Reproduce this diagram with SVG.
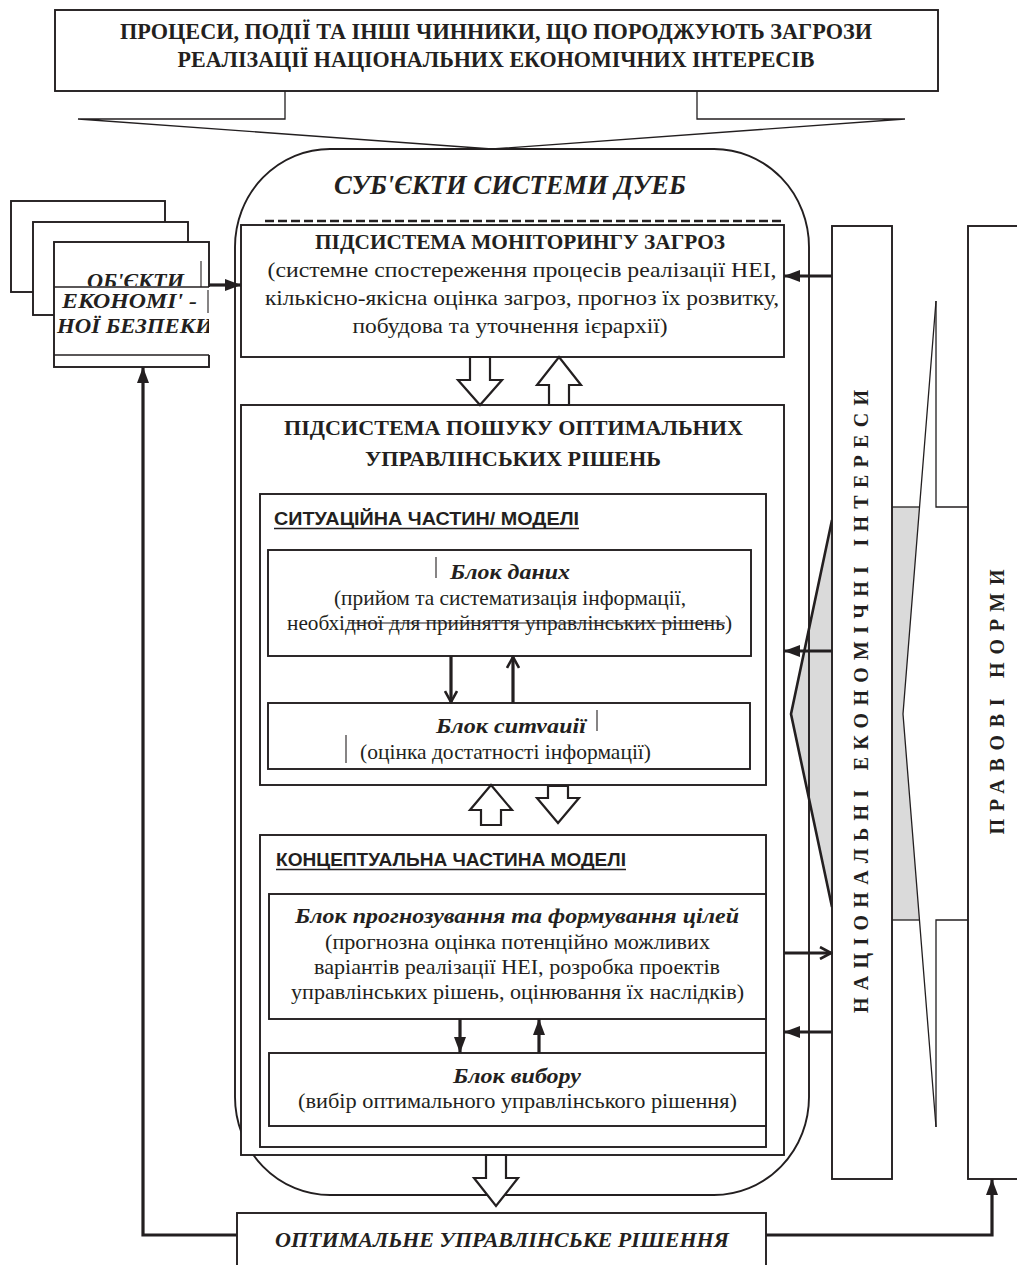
<svg xmlns="http://www.w3.org/2000/svg" width="1017" height="1265" viewBox="0 0 1017 1265">
<defs>
<style>
.box{fill:#fff;stroke:#231f20;stroke-width:1.9}
.nf{fill:none;stroke:#231f20;stroke-width:1.9}
.thin{fill:none;stroke:#231f20;stroke-width:1.3}
.bar{fill:none;stroke:#231f20;stroke-width:1.1}
.conn{fill:none;stroke:#231f20;stroke-width:3.2}
.chev{fill:none;stroke:#231f20;stroke-width:2.6;stroke-linejoin:miter}
.hollow{fill:#fff;stroke:#231f20;stroke-width:2.2;stroke-linejoin:miter}
.gray{fill:#dadada}
text{font-family:"Liberation Serif","Times New Roman",serif;fill:#231f20}
.b{font-weight:bold}
.bi{font-weight:bold;font-style:italic}
.sans{font-family:"Liberation Sans",Arial,sans-serif;font-weight:bold;font-size:19px}
.vert{font-weight:bold;font-size:20px}
</style>
<marker id="tri" markerUnits="userSpaceOnUse" viewBox="0 0 16 12" refX="16" refY="6" markerWidth="16" markerHeight="12" orient="auto"><path d="M0,0 L16,6 L0,12 Z" fill="#231f20"/></marker>
<marker id="barb" markerUnits="userSpaceOnUse" viewBox="0 0 14 14" refX="12" refY="7" markerWidth="14" markerHeight="14" orient="auto"><path d="M1,1 L12,7 L1,13" fill="none" stroke="#231f20" stroke-width="2.6"/></marker>
<clipPath id="cObj1"><rect x="54" y="242" width="155" height="44"/></clipPath>
<clipPath id="cObj3"><rect x="54" y="300" width="155" height="60"/></clipPath>
<clipPath id="cData"><rect x="300" y="550" width="400" height="29"/></clipPath>
<clipPath id="cSit"><rect x="300" y="703" width="400" height="30"/></clipPath>
</defs>
<rect x="0" y="0" width="1017" height="1265" fill="#fff"/>

<g id="interest-flow">
<polygon class="gray" points="832,520 791,714 832,907"/>
<polygon class="gray" points="892,507 919.5,507 903,714 919.5,920 892,920"/>
<polyline class="thin" points="936,301 903,714 936,1127"/>
<polyline class="thin" points="968,507 936,507 936,301"/>
<polyline class="thin" points="968,920 936,920 936,1127"/>
<line class="thin" x1="892" y1="507" x2="919.5" y2="507"/>
<line class="thin" x1="892" y1="920" x2="919.5" y2="920"/>
<polyline class="chev" points="832,520 791,714 832,907"/>
</g>

<g id="threats">
<rect class="box" x="55" y="10" width="883" height="81"/>
<text class="b" font-size="24" x="496" y="39" text-anchor="middle" textLength="752" lengthAdjust="spacingAndGlyphs">ПРОЦЕСИ, ПОДІЇ ТА ІНШІ ЧИННИКИ, ЩО ПОРОДЖУЮТЬ ЗАГРОЗИ</text>
<text class="b" font-size="24" x="496" y="67" text-anchor="middle" textLength="637" lengthAdjust="spacingAndGlyphs">РЕАЛІЗАЦІЇ НАЦІОНАЛЬНИХ ЕКОНОМІЧНИХ ІНТЕРЕСІВ</text>
</g>

<g id="subjects">
<path class="nf" d="M330,149 H714 A95,98 0 0 1 809,247 V1097 A95,98 0 0 1 714,1195 H330 A95,98 0 0 1 235,1097 V247 A95,98 0 0 1 330,149 Z"/>
<text class="bi" font-size="28" x="510" y="194" text-anchor="middle" textLength="352" lengthAdjust="spacingAndGlyphs">СУБ'ЄКТИ СИСТЕМИ ДУЕБ</text>
<line x1="265" y1="221" x2="781" y2="221" stroke="#231f20" stroke-width="2.5" stroke-dasharray="9 4"/>
</g>

<g id="objects">
<rect class="box" x="11" y="201" width="154" height="91"/>
<rect class="box" x="33" y="222" width="155" height="93"/>
<rect class="box" x="54" y="242" width="155" height="125"/>
<text class="bi" font-size="20" x="135.5" y="288" text-anchor="middle" textLength="97" lengthAdjust="spacingAndGlyphs" clip-path="url(#cObj1)">ОБ'ЄКТИ</text>
<rect x="55" y="287" width="160" height="68" fill="#fff"/>
<line class="thin" x1="54" y1="287" x2="209" y2="287"/>
<line class="thin" x1="54" y1="355" x2="209" y2="355"/>
<line class="bar" x1="201" y1="261" x2="201" y2="287"/>
<line class="bar" x1="208" y1="290" x2="208" y2="313"/>
<text class="bi" font-size="20" x="129.5" y="308" text-anchor="middle" textLength="135" lengthAdjust="spacingAndGlyphs">ЕКОНОМІ' -</text>
<text class="bi" font-size="20" x="57" y="333" textLength="156" lengthAdjust="spacingAndGlyphs" clip-path="url(#cObj3)">НОЇ БЕЗПЕКИ</text>
</g>

<g id="monitoring">
<rect class="box" x="241" y="225" width="543" height="132"/>
<text class="b" font-size="22" x="520" y="249" text-anchor="middle" textLength="410" lengthAdjust="spacingAndGlyphs">ПІДСИСТЕМА МОНІТОРИНГУ ЗАГРОЗ</text>
<text font-size="21" x="522" y="277" text-anchor="middle" textLength="509" lengthAdjust="spacingAndGlyphs">(системне спостереження процесів реалізації НЕІ,</text>
<text font-size="21" x="522" y="305" text-anchor="middle" textLength="514" lengthAdjust="spacingAndGlyphs">кількісно-якісна оцінка загроз, прогноз їх розвитку,</text>
<text font-size="21" x="510" y="333" text-anchor="middle" textLength="315" lengthAdjust="spacingAndGlyphs">побудова та уточнення ієрархії)</text>
</g>

<g id="search">
<rect class="box" x="241" y="405" width="543" height="750"/>
<text class="b" font-size="22" x="513.5" y="435" text-anchor="middle" textLength="459" lengthAdjust="spacingAndGlyphs">ПІДСИСТЕМА ПОШУКУ ОПТИМАЛЬНИХ</text>
<text class="b" font-size="22" x="513" y="466" text-anchor="middle" textLength="296" lengthAdjust="spacingAndGlyphs">УПРАВЛІНСЬКИХ РІШЕНЬ</text>
</g>

<g id="situational">
<rect class="box" x="260" y="494" width="506" height="291"/>
<text class="sans" x="274" y="525" textLength="305" lengthAdjust="spacingAndGlyphs">СИТУАЦІЙНА ЧАСТИН/  МОДЕЛІ</text>
<line class="thin" x1="274" y1="528.5" x2="579" y2="528.5"/>
</g>

<g id="data-block">
<rect class="box" x="268" y="550" width="483" height="106"/>
<line class="bar" x1="436" y1="557" x2="436" y2="578"/>
<text class="bi" font-size="22" x="510" y="579" text-anchor="middle" textLength="120" lengthAdjust="spacingAndGlyphs" clip-path="url(#cData)">Блок даних</text>
<text font-size="21" x="510" y="605" text-anchor="middle" textLength="352" lengthAdjust="spacingAndGlyphs">(прийом та систематизація інформації,</text>
<text font-size="21" x="509.5" y="630" text-anchor="middle" textLength="445" lengthAdjust="spacingAndGlyphs">необхідної для прийняття управлінських рішень)</text>
<line class="bar" x1="348" y1="623" x2="725" y2="623"/>
</g>

<g id="situation-block">
<rect class="box" x="268" y="703" width="482" height="66"/>
<text class="bi" font-size="22" x="511" y="733" text-anchor="middle" textLength="150" lengthAdjust="spacingAndGlyphs" clip-path="url(#cSit)">Блок ситуації</text>
<line class="bar" x1="597" y1="710" x2="597" y2="731"/>
<line class="bar" x1="346" y1="735" x2="346" y2="763"/>
<text font-size="21" x="505.5" y="759" text-anchor="middle" textLength="291" lengthAdjust="spacingAndGlyphs">(оцінка достатності інформації)</text>
</g>

<g id="conceptual">
<rect class="box" x="260" y="835" width="506" height="312"/>
<text class="sans" x="276" y="866" textLength="350" lengthAdjust="spacingAndGlyphs">КОНЦЕПТУАЛЬНА ЧАСТИНА МОДЕЛІ</text>
<line class="thin" x1="276" y1="869.5" x2="626" y2="869.5"/>
</g>

<g id="forecast-block">
<rect class="box" x="269" y="894" width="497" height="125"/>
<text class="bi" font-size="22" x="517" y="923" text-anchor="middle" textLength="444" lengthAdjust="spacingAndGlyphs">Блок прогнозування та формування цілей</text>
<text font-size="21" x="517.5" y="949" text-anchor="middle" textLength="385" lengthAdjust="spacingAndGlyphs">(прогнозна оцінка потенційно можливих</text>
<text font-size="21" x="517" y="974" text-anchor="middle" textLength="406" lengthAdjust="spacingAndGlyphs">варіантів реалізації НЕІ, розробка проектів</text>
<text font-size="21" x="517.5" y="999" text-anchor="middle" textLength="453" lengthAdjust="spacingAndGlyphs">управлінських рішень, оцінювання їх наслідків)</text>
</g>

<g id="choice-block">
<rect class="box" x="269" y="1053" width="497" height="73"/>
<text class="bi" font-size="22" x="517" y="1083" text-anchor="middle" textLength="128" lengthAdjust="spacingAndGlyphs">Блок вибору</text>
<text font-size="21" x="517.5" y="1108" text-anchor="middle" textLength="439" lengthAdjust="spacingAndGlyphs">(вибір оптимального управлінського рішення)</text>
</g>

<g id="national-interests">
<rect class="box" x="832" y="226" width="60" height="953"/>
<text class="vert" transform="translate(868,701.5) rotate(-90)" text-anchor="middle" textLength="623" lengthAdjust="spacing">НАЦІОНАЛЬНІ ЕКОНОМІЧНІ ІНТЕРЕСИ</text>
</g>

<g id="legal-norms">
<rect class="nf" x="968" y="226" width="70" height="953"/>
<text class="vert" transform="translate(1004,702) rotate(-90)" text-anchor="middle" textLength="265" lengthAdjust="spacing">ПРАВОВІ НОРМИ</text>
</g>

<g id="decision">
<rect class="box" x="237" y="1213" width="529" height="70"/>
<text class="bi" font-size="21" x="502" y="1247" text-anchor="middle" textLength="454" lengthAdjust="spacingAndGlyphs">ОПТИМАЛЬНЕ УПРАВЛІНСЬКЕ РІШЕННЯ</text>
</g>

<g id="connectors">
<path class="thin" d="M285,91 V119 H78 L492,149 L905,119 H697 V91"/>
<line class="conn" x1="209" y1="285" x2="241" y2="285" marker-end="url(#tri)"/>
<polyline class="conn" points="237,1235 143,1235 143,367" marker-end="url(#tri)"/>
<polyline class="conn" points="766,1235 992,1235 992,1179" marker-end="url(#tri)"/>
<line class="conn" x1="832" y1="276" x2="784" y2="276" marker-end="url(#tri)"/>
<line class="conn" x1="832" y1="651" x2="784" y2="651" marker-end="url(#tri)"/>
<line class="conn" x1="784" y1="953" x2="831" y2="953" marker-end="url(#barb)"/>
<line class="conn" x1="832" y1="1032" x2="784" y2="1032" marker-end="url(#tri)"/>
<line class="conn" x1="451" y1="656" x2="451" y2="702" marker-end="url(#barb)"/>
<line class="conn" x1="513" y1="703" x2="513" y2="657" marker-end="url(#barb)"/>
<line class="conn" x1="460" y1="1019" x2="460" y2="1053" marker-end="url(#tri)"/>
<line class="conn" x1="539" y1="1053" x2="539" y2="1019" marker-end="url(#tri)"/>
<path class="hollow" d="M470,357 H490 V380 H502 L480,405 L458,380 H470 Z"/>
<path class="hollow" d="M559,357 L581,385 H569 V405 H549 V385 H537 Z"/>
<path class="hollow" d="M491,785 L512,810 H501 V825 H481 V810 H470 Z"/>
<path class="hollow" d="M548,786 H568 V798 H579 L558,823 L537,798 H548 Z"/>
<path class="hollow" d="M486,1155 H506 V1178 H518 L496,1206 L474,1178 H486 Z"/>
</g>
</svg>
